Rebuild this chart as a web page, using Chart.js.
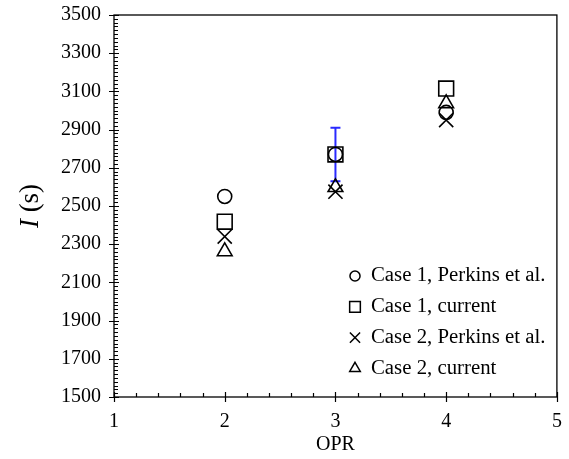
<!DOCTYPE html>
<html>
<head>
<meta charset="utf-8">
<script src="https://cdn.jsdelivr.net/npm/chart.js@4/dist/chart.umd.min.js"></script>
<style>
  html, body { margin: 0; padding: 0; background: #fff; }
  #wrap { width: 569px; height: 459px; }
</style>
</head>
<body>
<div id="wrap"><canvas id="grafica"></canvas></div>
<script>
// Datos
const opr = [2, 3, 4];
const case1Perkins = [2550, 2770, 2990];
const case1Current = [2418, 2770, 3115];
const case2Perkins = [2340, 2575, 2950];
const case2Current = [2262, 2598, 3037];

// barra de error (azul) en OPR = 3
const errX = [3];
const errLow = [2630];
const errHigh = [2910];

const xTicks = [1, 2, 3, 4, 5];
const yTicks = [1500, 1700, 1900, 2100, 2300, 2500, 2700, 2900, 3100, 3300, 3500];
const legendLabels = ["Case 1, Perkins et al.", "Case 1, current", "Case 2, Perkins et al.", "Case 2, current"];

const serif = "'Liberation Serif', 'Times New Roman', serif";

function pts(xs, ys) {
  return xs.map((v, i) => ({x: v, y: ys[i]}));
}

const estilos = [
  {pointStyle: 'circle', radius: 7},
  {pointStyle: 'rect', radius: 10.5},
  {pointStyle: 'crossRot', radius: 10},
  {pointStyle: 'triangle', radius: 8.5}
];
const series = [case1Perkins, case1Current, case2Perkins, case2Current];

// Barra de error
const errorBars = {
  id: 'errorBars',
  beforeDatasetsDraw(chart) {
    const {ctx, scales: {x, y}} = chart;
    ctx.save();
    ctx.strokeStyle = '#2a2aff';
    ctx.lineWidth = 2;
    errX.forEach((v, i) => {
      const px = x.getPixelForValue(v);
      const y1 = y.getPixelForValue(errLow[i]);
      const y2 = y.getPixelForValue(errHigh[i]);
      ctx.beginPath();
      ctx.moveTo(px, y1); ctx.lineTo(px, y2);
      ctx.moveTo(px - 5, y1); ctx.lineTo(px + 5, y1);
      ctx.moveTo(px - 5, y2); ctx.lineTo(px + 5, y2);
      ctx.stroke();
    });
    ctx.restore();
  }
};

// Marco, marcas de ejes, títulos y leyenda
const ejes = {
  id: 'ejes',
  afterDraw(chart) {
    const {ctx, chartArea: a, scales: {x, y}} = chart;
    ctx.save();
    ctx.strokeStyle = '#000';
    ctx.lineWidth = 1.3;
    ctx.strokeRect(a.left, a.top, a.right - a.left, a.bottom - a.top);
    ctx.lineWidth = 1.2;
    ctx.beginPath();
    // y: mayores cruzan el eje, menores hacia dentro
    for (let v = yTicks[0]; v <= yTicks[yTicks.length - 1] + 0.1; v += 20) {
      const py = Math.round(y.getPixelForValue(v)) + 0.5;
      const major = yTicks.includes(Math.round(v));
      ctx.moveTo(a.left - (major ? 5 : 0), py);
      ctx.lineTo(a.left + (major ? 5 : 4), py);
    }
    // x
    for (let v = xTicks[0]; v <= xTicks[xTicks.length - 1] + 0.01; v += 0.2) {
      const px = Math.round(x.getPixelForValue(v)) + 0.5;
      const major = Math.abs(v - Math.round(v)) < 0.01;
      ctx.moveTo(px, a.bottom + (major ? 5 : 0));
      ctx.lineTo(px, a.bottom - (major ? 5 : 4));
    }
    ctx.stroke();

    // título eje x
    ctx.fillStyle = '#000';
    ctx.font = '20px ' + serif;
    ctx.textAlign = 'center';
    ctx.textBaseline = 'middle';
    ctx.fillText('OPR', (a.left + a.right) / 2, 445);

    // título eje y: "I (s)" con I en cursiva
    ctx.translate(31, (a.top + a.bottom) / 2);
    ctx.rotate(-Math.PI / 2);
    ctx.textAlign = 'left';
    ctx.font = 'italic 27px ' + serif;
    const w1 = ctx.measureText('I ').width;
    ctx.font = '27px ' + serif;
    const w2 = ctx.measureText('(s)').width;
    const x0 = -(w1 + w2) / 2;
    ctx.font = 'italic 27px ' + serif;
    ctx.fillText('I', x0, 0);
    ctx.font = '27px ' + serif;
    ctx.fillText('(s)', x0 + w1, 0);
    ctx.restore();

    // leyenda dentro del área
    ctx.save();
    ctx.strokeStyle = '#000';
    ctx.fillStyle = 'rgba(0,0,0,0)';
    ctx.lineWidth = 1.5;
    legendLabels.forEach((t, i) => {
      const e = estilos[i];
      Chart.helpers.drawPoint(ctx, {pointStyle: e.pointStyle, radius: e.radius * 0.72, borderWidth: 1.5, rotation: 0}, 355, 276 + i * 30.8);
    });
    ctx.fillStyle = '#000';
    ctx.font = '20.8px ' + serif;
    ctx.textAlign = 'left';
    ctx.textBaseline = 'middle';
    legendLabels.forEach((t, i) => {
      ctx.fillText(t, 371, 276 + i * 30.8);
    });
    ctx.restore();
  }
};

new Chart(document.getElementById('grafica'), {
  type: 'scatter',
  data: {
    datasets: series.map((s, i) => ({
      label: legendLabels[i],
      data: pts(opr, s),
      pointStyle: estilos[i].pointStyle,
      pointRadius: estilos[i].radius,
      pointHoverRadius: estilos[i].radius,
      borderColor: '#000',
      backgroundColor: 'rgba(0,0,0,0)',
      pointBorderWidth: 1.6,
      showLine: false
    }))
  },
  options: {
    responsive: true,
    maintainAspectRatio: false,
    animation: false,
    layout: {padding: {top: 15, right: 12, left: 0, bottom: 0}},
    plugins: {legend: {display: false}, tooltip: {enabled: false}},
    scales: {
      x: {
        type: 'linear',
        min: 1, max: 5,
        afterBuildTicks: s => { s.ticks = xTicks.map(v => ({value: v})); },
        afterFit: s => { s.height = 62; s.paddingLeft = 0; s.paddingRight = 0; },
        grid: {display: false, drawTicks: false},
        border: {display: false},
        ticks: {color: '#000', font: {family: serif, size: 20}, padding: 13, callback: v => String(v)}
      },
      y: {
        type: 'linear',
        min: 1500, max: 3500,
        afterBuildTicks: s => { s.ticks = yTicks.map(v => ({value: v})); },
        afterFit: s => { s.width = 114; s.paddingTop = 0; s.paddingBottom = 0; },
        grid: {display: false, drawTicks: false},
        border: {display: false},
        ticks: {color: '#000', font: {family: serif, size: 20}, padding: 13, callback: v => String(v)}
      }
    }
  },
  plugins: [errorBars, ejes]
});
</script>
</body>
</html>
